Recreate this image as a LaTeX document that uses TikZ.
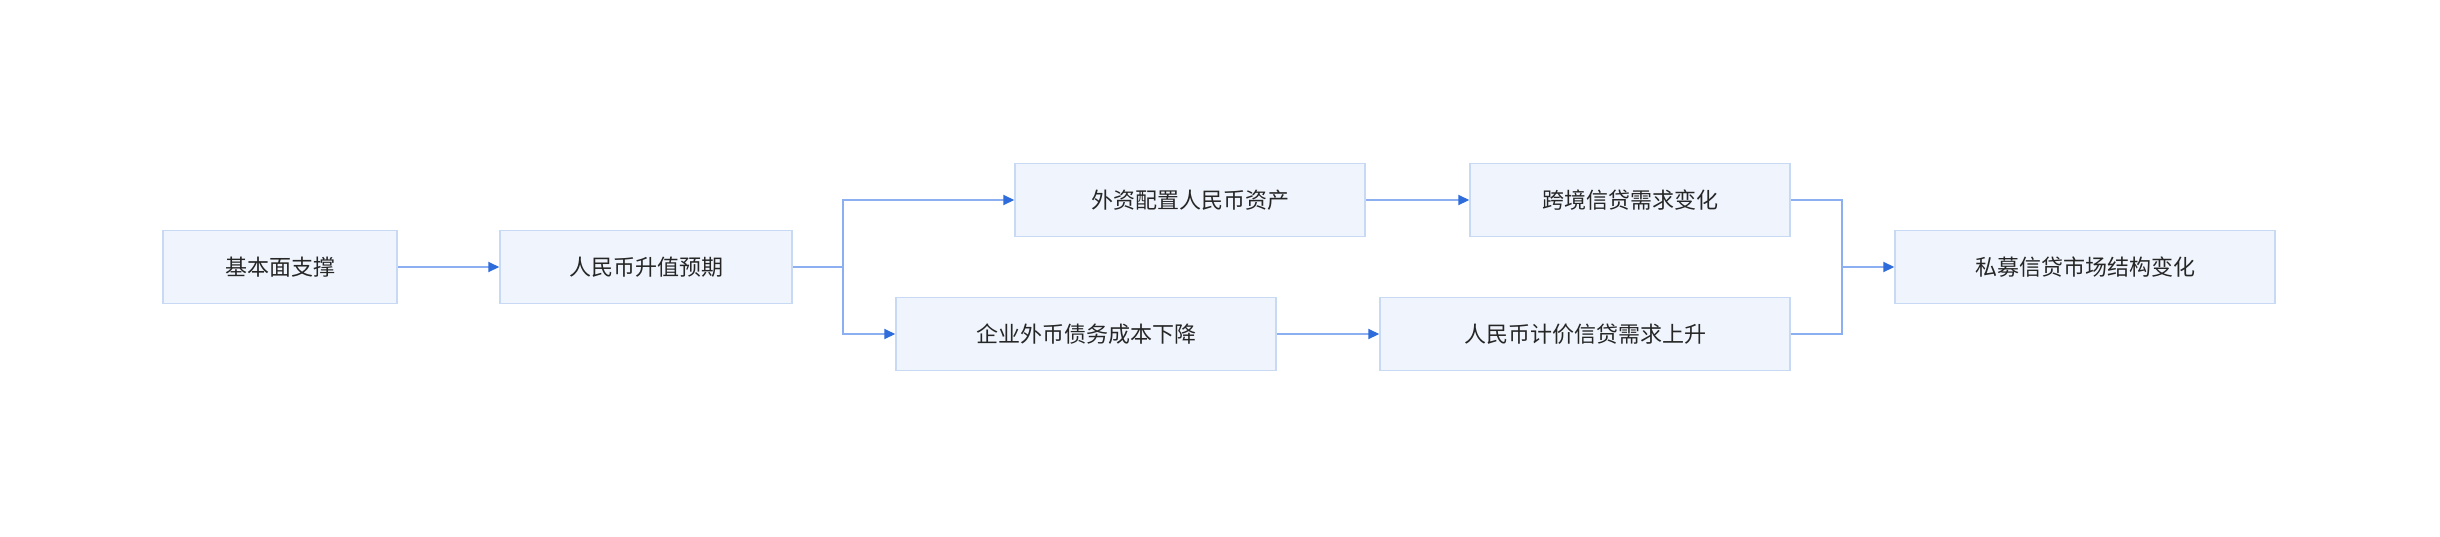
\documentclass[tikz,border=0pt]{standalone}
\usepackage{fontspec}
\setmainfont{Noto Sans CJK SC}
\usetikzlibrary{arrows.meta}
\definecolor{boxfill}{HTML}{F0F5FD}
\definecolor{boxline}{HTML}{C8D9F4}
\definecolor{linkline}{HTML}{8BAFF0}
\definecolor{tipblue}{HTML}{2E6BDB}
\tikzset{
  box/.style={draw=boxline, fill=boxfill, line width=1.5pt, minimum height=73pt,
    inner sep=0pt, text=black!85, font=\fontsize{22}{26}\selectfont},
  link/.style={draw=linkline, line width=2pt, -{Triangle[length=11pt,width=10pt,fill=tipblue,color=tipblue]}}
}
\begin{document}
\begin{tikzpicture}[x=1pt,y=-1pt]
		\useasboundingbox[fill=white] (0,0) rectangle (2440,536);
		
		%left part
		\node[box, minimum width=234pt] (base) at (280,267) {基本面支撑};
		\node[box, minimum width=292pt] (expect) at (646,267) {人民币升值预期};
		
		%two branches
		\node[box, minimum width=350pt] (alloc) at (1190,200) {外资配置人民币资产};
		\node[box, minimum width=320pt] (cross) at (1630,200) {跨境信贷需求变化};
		\node[box, minimum width=380pt] (cost) at (1086,334) {企业外币债务成本下降};
		\node[box, minimum width=410pt] (rmb) at (1585,334) {人民币计价信贷需求上升};
		
		%result
		\node[box, minimum width=380pt] (result) at (2085,267) {私募信贷市场结构变化};
		
		\coordinate (split) at (843,267);
		\coordinate (merge) at (1842,267);
		
		\draw[link] (base) -- (expect);
		\draw[link] (expect.east) -- (split) |- (alloc.west);
		\draw[link] (split) |- (cost.west);
		\draw[link] (alloc) -- (cross);
		\draw[link] (cost) -- (rmb);
		\draw[link] (cross.east) -| (merge) -- (result.west);
		\draw[link, -] (rmb.east) -| (merge);
\end{tikzpicture}
\end{document}
